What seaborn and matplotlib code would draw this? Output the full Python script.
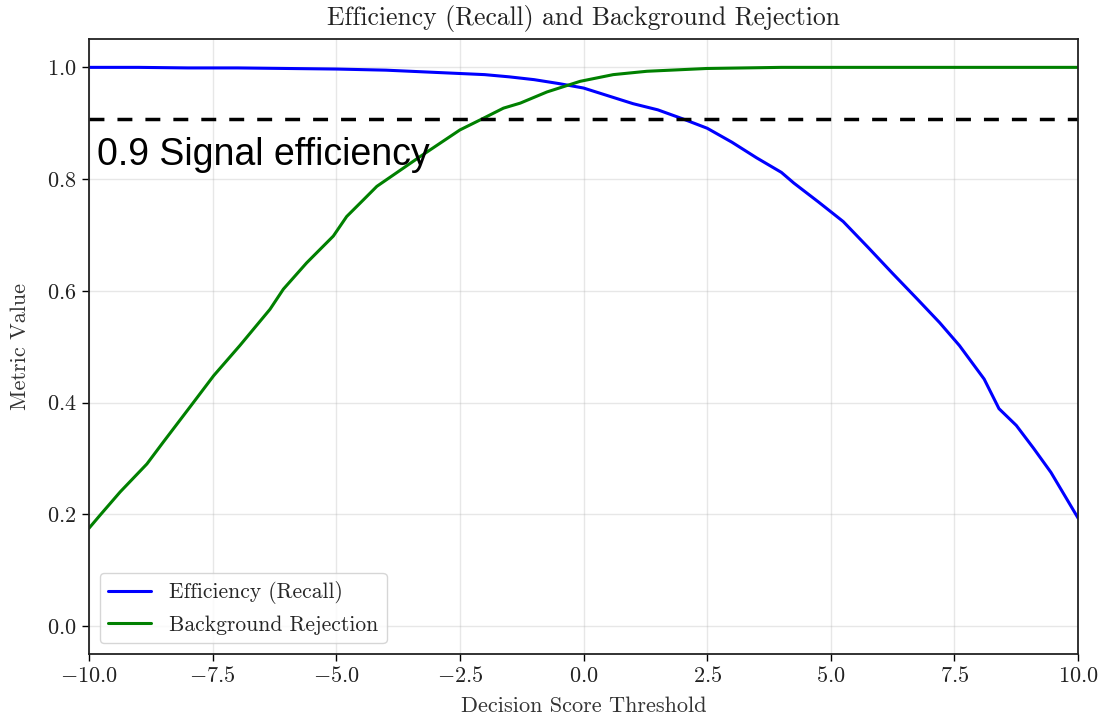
import numpy as np
import pandas as pd
import matplotlib
matplotlib.use("Agg")
import matplotlib.pyplot as plt
import seaborn as sns

# ---- data ----
eff_x = [-10, -9, -8, -7, -6, -5, -4.5, -4, -3.5, -3, -2.5, -2, -1.5, -1, -0.5,
         0, 0.5, 1, 1.5, 2, 2.5, 3, 3.5, 4, 4.25, 4.75, 5.25, 5.75, 6.25, 6.75,
         7.2, 7.6, 8.1, 8.4, 8.75, 9.1, 9.45, 10]
eff_y = [1.000, 1.000, 0.999, 0.999, 0.998, 0.997, 0.996, 0.995, 0.993, 0.991,
         0.989, 0.987, 0.983, 0.978, 0.971, 0.963, 0.949, 0.935, 0.924, 0.908,
         0.891, 0.866, 0.838, 0.812, 0.793, 0.759, 0.724, 0.678, 0.631, 0.585,
         0.543, 0.502, 0.442, 0.389, 0.359, 0.318, 0.275, 0.193]

rej_x = [-10, -9.78, -9.37, -8.83, -8.5, -7.89, -7.48, -6.95, -6.34, -6.07, -5.6,
         -5.06, -4.79, -4.45, -4.18, -3.31, -2.5, -2.09, -1.62, -1.28, -0.74,
         -0.07, 0.6, 1.28, 2.49, 4, 5, 6, 7, 8, 9, 10]
rej_y = [0.175, 0.198, 0.240, 0.290, 0.329, 0.400, 0.448, 0.502, 0.567, 0.603,
         0.650, 0.698, 0.733, 0.763, 0.787, 0.840, 0.888, 0.906, 0.927, 0.936,
         0.956, 0.975, 0.987, 0.993, 0.998, 1.000, 1.000, 1.000, 1.000, 1.000,
         1.000, 1.000]

series_labels = ["Efficiency (Recall)", "Background Rejection"]
series_colors = ["blue", "green"]
signal_level = 0.907
signal_text = "0.9 Signal efficiency"
x_ticks = [-10, -7.5, -5, -2.5, 0, 2.5, 5, 7.5, 10]
y_ticks = [0.0, 0.2, 0.4, 0.6, 0.8, 1.0]

sns.set_theme(style="ticks")
plt.rcParams["font.family"] = ["cmr10"]
plt.rcParams["mathtext.fontset"] = "cm"
plt.rcParams["axes.formatter.use_mathtext"] = True
plt.rcParams["axes.unicode_minus"] = True

df = pd.concat([
    pd.DataFrame({"threshold": eff_x, "value": eff_y, "metric": series_labels[0]}),
    pd.DataFrame({"threshold": rej_x, "value": rej_y, "metric": series_labels[1]}),
], ignore_index=True)

fig = plt.figure(figsize=(10.99, 7.17), dpi=100)
ax = fig.add_axes([0.081, 0.088, 0.9, 0.857])

sns.lineplot(data=df, x="threshold", y="value", hue="metric",
             palette=dict(zip(series_labels, series_colors)),
             linewidth=2.2, estimator=None, sort=False, ax=ax)

ax.axhline(signal_level, color="black", linewidth=2.5, linestyle=(0, (4.3, 3.75)))
ax.text(-9.83, 0.826, signal_text, fontsize=27, family="Liberation Sans",
        color="black", va="baseline", ha="left")

ax.set_xlim(-10, 10)
ax.set_ylim(-0.05, 1.05)
ax.set_xticks(x_ticks)
ax.set_yticks(y_ticks)
ax.grid(True, color="#b0b0b0", alpha=0.3, linewidth=1)
ax.tick_params(labelsize=16, length=5, width=1, pad=4, color="black",
               labelcolor="#222222")
for s in ax.spines.values():
    s.set_color("#222222")
    s.set_linewidth(1.3)

ax.set_title("Efficiency (Recall) and Background Rejection", fontsize=18.5,
             pad=10.5, color="#222222")
ax.set_xlabel("Decision Score Threshold", fontsize=16, color="#333333", labelpad=7)
ax.set_ylabel("Metric Value", fontsize=16, color="#333333", labelpad=12)

handles, labels = ax.get_legend_handles_labels()
ax.legend(handles, labels, loc="lower left", fontsize=15.5, title=None,
          frameon=True, fancybox=True, framealpha=0.8, edgecolor="#cccccc")

fig.savefig("out.png", dpi=100)
